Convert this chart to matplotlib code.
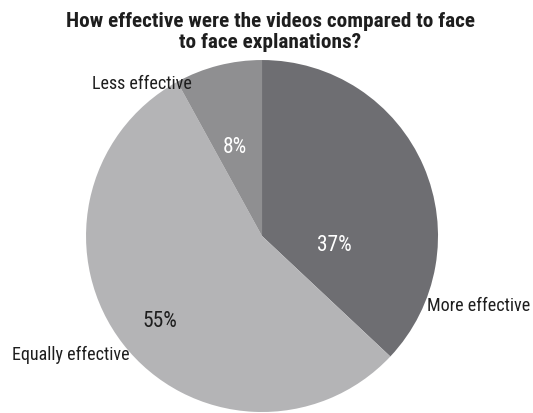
import matplotlib.pyplot as plt
from matplotlib import font_manager

# 字体：优先使用窄体
names = {f.name for f in font_manager.fontManager.ttflist}
narrow = 'Liberation Sans'
for cand in ['Liberation Sans Narrow', 'Roboto Condensed', 'DejaVu Sans Condensed']:
    if cand in names:
        narrow = cand
        break
plt.rcParams['font.family'] = [narrow, 'DejaVu Sans']

title = "How effective were the videos compared to face\nto face explanations?"
categories = ["More effective", "Equally effective", "Less effective"]
values = [37, 55, 8]
colors = ["#6e6e72", "#b4b4b6", "#8f8f91"]

# 标签位置（相对半径）
label_pos = [(0.94, -0.39), (-0.75, -0.67), (-0.68, 0.87)]
label_ha = ["left", "right", "center"]
pct_pos = [(0.41, -0.05), (-0.58, -0.48), (-0.155, 0.51)]

fig = plt.figure(figsize=(5.33, 4.14), dpi=100)
ax = fig.add_axes([0.1614, 0.0024, 0.6604, 0.8502])

wedges, texts, autotexts = ax.pie(values, labels=categories, colors=colors,
                                  startangle=90, counterclock=False,
                                  autopct='%d%%', radius=1.0)
for t, p, ha in zip(texts, label_pos, label_ha):
    t.set_position(p)
    t.set_ha(ha)
    t.set_va("center")
    t.set_fontsize(13)
    t.set_color("#1e1e1e")
for t, p in zip(autotexts, pct_pos):
    t.set_position(p)
    t.set_ha("center")
    t.set_va("center")
    t.set_fontsize(15.5)
    t.set_color("white")
autotexts[1].set_color("#1e1e1e")

ax.set_xlim(-1, 1)
ax.set_ylim(-1, 1)
ax.set_aspect("equal")

fig.text(0.507, 0.923, title, ha="center", va="center", fontsize=15.3,
         fontweight="bold", color="#1e1e1e", linespacing=1.17)

plt.savefig("out.png", dpi=100)
plt.close()
